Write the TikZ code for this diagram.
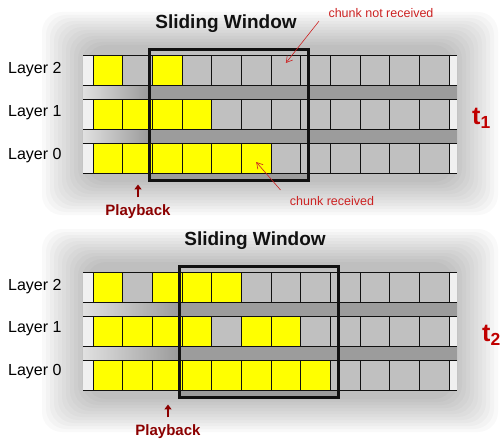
\documentclass[tikz,border=0pt]{standalone}
\usepackage{fontspec}
\setmainfont{Liberation Sans}
\usetikzlibrary{arrows.meta, positioning}
\definecolor{ink}     {HTML}{111111}
\definecolor{recv}    {HTML}{FFFF00}
\definecolor{miss}    {HTML}{C0C0C0}
\definecolor{gapgray} {HTML}{9C9C9C}
\definecolor{notered} {HTML}{CC2222}
\definecolor{playred} {HTML}{8B0000}
\definecolor{tred}    {HTML}{C00000}
\tikzset{
  chunk/.style    = {draw=ink, line width=0.8pt, fill=miss, inner sep=0pt,
                     minimum width=29.67pt, minimum height=30pt},
  gotchunk/.style = {chunk, fill=recv},
  rowline/.style  = {draw=ink, line width=0.9pt},
  window/.style   = {draw=ink, line width=2.6pt},
  haze/.style     = {fill=black, opacity=0.022, rounded corners=20pt},
  layer/.style    = {font=\fontsize{16}{18}\selectfont, anchor=west, inner sep=0pt},
  title/.style    = {font=\fontsize{19}{22}\selectfont\bfseries, text=ink},
  note/.style     = {font=\fontsize{12.5}{14}\selectfont, text=notered},
  notearr/.style  = {-{Straight Barb[length=6pt, width=7pt]}, notered, line width=0.6pt},
  play/.style     = {font=\fontsize{15}{17}\selectfont\bfseries, text=playred},
  playarr/.style  = {-{Triangle[length=5pt, width=7pt]}, playred, line width=2pt},
  tlabel/.style   = {font=\fontsize{25}{28}\selectfont\bfseries, text=tred,
                     anchor=west, inner sep=0pt},
}
% one row of 12 chunks: name, y centre, received chunks
\newcommand{\chunkrow}[3]{%
  \fill[black!6] (83,#2-15) rectangle (457,#2+15);
  \draw[rowline] (83,#2-15) -- (457,#2-15) (83,#2+15) -- (457,#2+15);
  \foreach \i in {1,...,12}
    \node[chunk] (#1-\i) at ({93+(\i-0.5)*29.67}, #2) {};
  \foreach \i in {#3}
    \node[gotchunk] at (#1-\i) {};
}
% grey band between two rows: top, bottom, window left
\newcommand{\gapband}[3]{%
  \shade[left color=black!12, right color=gapgray] (83,#1) rectangle (#3,#2);
  \fill[gapgray] (#3,#1) rectangle (457,#2);
}
% soft haze round one diagram: top, bottom
\newcommand{\hazebox}[2]{%
  \foreach \k in {1,...,12}
    \fill[haze] (90-\k*4, #1-\k*3) rectangle (450+\k*4, #2+\k*3);
}
\begin{document}
\begin{tikzpicture}[x=1pt, y=-1pt]
  \useasboundingbox (0,0) rectangle (500,441);
  \clip (0,0) rectangle (500,441);

  % time t1
  \hazebox{48}{179}
  \gapband{85}{100}{148}
  \gapband{129}{143}{148}
  \fill[gapgray] (148,173) rectangle (307,179);
  \chunkrow{a2}{70}{1,3}
  \chunkrow{a1}{114}{1,2,3,4}
  \chunkrow{a0}{158}{1,2,3,4,5,6}
  \node[window, minimum width=159pt, minimum height=131pt, anchor=north west]
    (win1) at (148,48) {};
  \node[title] (title1) at (226,24) {Sliding Window};
  \node[layer] (lab-a2) at (8,70)  {Layer 2};
  \node[layer] (lab-a1) at (8,113) {Layer 1};
  \node[layer] (lab-a0) at (8,156) {Layer 0};
  \node[tlabel] (t1) at (472,118) {t\textsubscript{1}};
  \node[note] (miss) at (381,13) {chunk not received};
  \node[note] (got)  at (332,201) {chunk received};
  \draw[notearr] ([xshift=-6pt]miss.south west) -- ([yshift=7pt]a2-7.center);
  \draw[notearr] ([xshift=-6pt, yshift=3pt]got.north west) -- ([yshift=-4pt]a0-6.center);
  \node[play] (play1) at (138,212) {Playback};
  \draw[playarr] ([yshift=4pt]play1.north) -- ++(0,-13);

  % time t2
  \hazebox{265}{396}
  \gapband{302}{316}{178}
  \gapband{346}{360}{178}
  \fill[gapgray] (178,389) rectangle (337,396);
  \chunkrow{b2}{287}{1,3,4,5}
  \chunkrow{b1}{331}{1,2,3,4,6,7}
  \chunkrow{b0}{375}{1,2,3,4,5,6,7,8}
  \node[window, minimum width=159pt, minimum height=131pt, anchor=north west]
    (win2) at (178,265) {};
  \node[title] (title2) at (255,241) {Sliding Window};
  \node[layer] (lab-b2) at (8,287) {Layer 2};
  \node[layer] (lab-b1) at (8,329) {Layer 1};
  \node[layer] (lab-b0) at (8,372) {Layer 0};
  \node[tlabel] (t2) at (482,335) {t\textsubscript{2}};
  \node[play] (play2) at (168,432) {Playback};
  \draw[playarr] ([yshift=4pt]play2.north) -- ++(0,-13);

\end{tikzpicture}
\end{document}
